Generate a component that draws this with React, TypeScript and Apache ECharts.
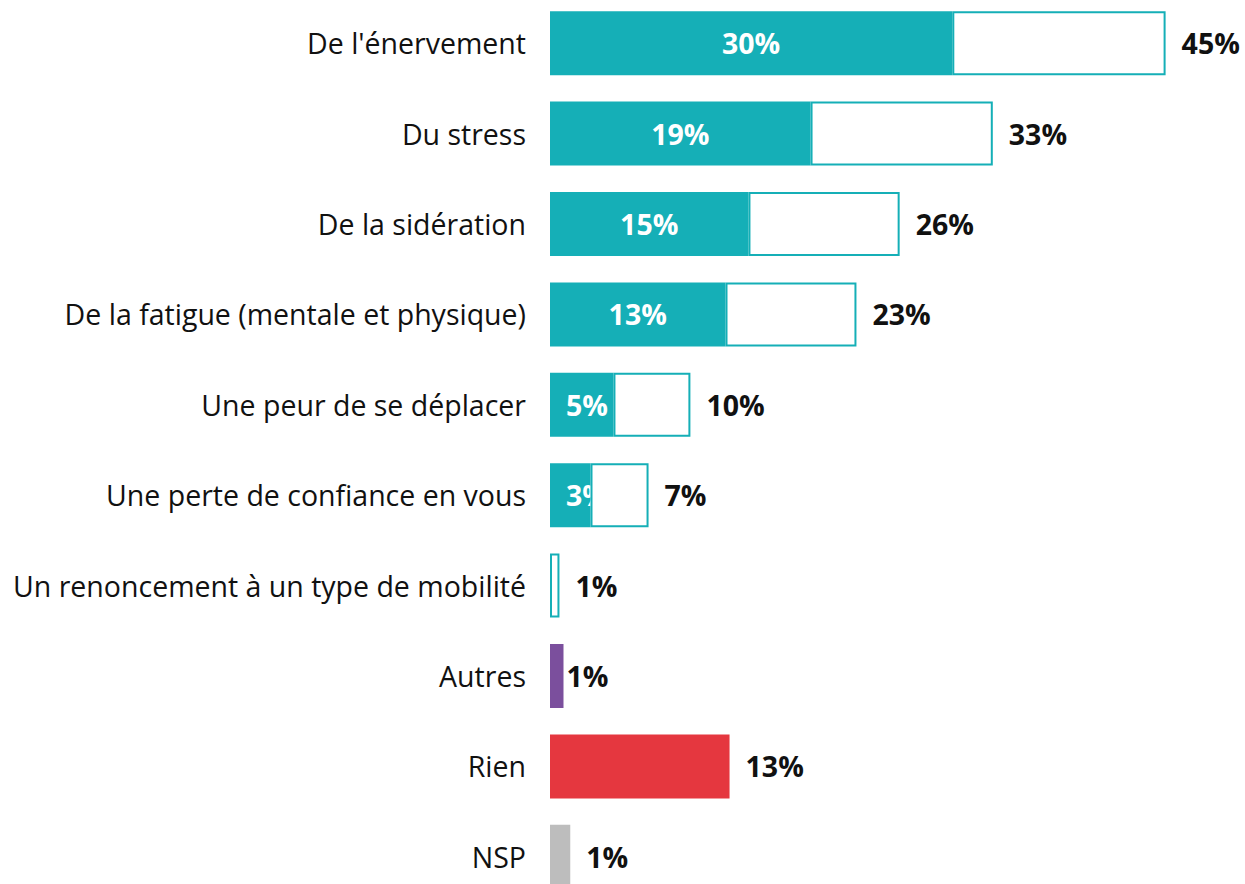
import React, { useEffect, useRef } from "react";
import * as echarts from "echarts";

const categories = [
  "De l'énervement",
  "Du stress",
  "De la sidération",
  "De la fatigue (mentale et physique)",
  "Une peur de se déplacer",
  "Une perte de confiance en vous",
  "Un renoncement à un type de mobilité",
  "Autres",
  "Rien",
  "NSP",
];
// total bar length (%)
const totalValues = [45.6, 32.8, 25.9, 22.7, 10.4, 7.3, 0.7, 1.0, 13.3, 1.5];
const totalLabels = ["45%", "33%", "26%", "23%", "10%", "7%", "1%", "1%", "13%", "1%"];
// filled (strong) part of the split bars
const strongValues = [29.8, 19.3, 14.7, 13.0, 4.7, 3.0, 0];
const strongLabels = ["30%", "19%", "15%", "13%", "5%", "3%", ""];

const TEAL = "#15AFB7";
const singleColors: Record<string, string> = {
  Autres: "#7B4F9D",
  Rien: "#E5373F",
  NSP: "#BDBDBD",
};

const FONT = "'Open Sans', sans-serif";
const VAL_SIZE = 28.5;

export default function App() {
  const ref = useRef<HTMLDivElement>(null);
  useEffect(() => {
    if (!ref.current) return;
    const chart = echarts.init(ref.current, null, { renderer: "svg" });
    const nSplit = strongValues.length;

    const strongData = categories.map((c, i) => {
      if (i < nSplit) {
        const small = strongValues[i] < 6;
        return {
          value: strongValues[i],
          itemStyle: { color: TEAL },
          label: {
            show: strongValues[i] > 0,
            position: small ? "insideLeft" : "inside",
            distance: small ? 16 : 5,
            formatter: strongLabels[i],
            color: "#ffffff",
            fontWeight: "bold",
            fontSize: VAL_SIZE,
            fontFamily: FONT,
          },
        };
      }
      return {
        value: totalValues[i],
        itemStyle: { color: singleColors[c] },
        label: {
          show: true,
          position: "right",
          distance: c === "Autres" ? 3 : 16,
          formatter: totalLabels[i],
          color: "#111111",
          fontWeight: "bold",
          fontSize: VAL_SIZE,
          fontFamily: FONT,
        },
      };
    });

    const restData = categories.map((c, i) => {
      if (i < nSplit) {
        return {
          value: +(totalValues[i] - strongValues[i]).toFixed(2),
          label: {
            show: true,
            position: "right",
            distance: 16,
            formatter: totalLabels[i],
            color: "#111111",
            fontWeight: "bold",
            fontSize: VAL_SIZE,
            fontFamily: FONT,
          },
        };
      }
      return { value: null };
    });

    chart.setOption({
      animation: false,
      grid: { left: 550, right: 20, top: 18, height: 904, containLabel: false },
      xAxis: {
        type: "value",
        min: 0,
        max: 50,
        show: false,
      },
      yAxis: {
        type: "category",
        data: categories,
        inverse: true,
        axisLine: { show: false },
        axisTick: { show: false },
        axisLabel: {
          margin: 24,
          color: "#111111",
          fontSize: 28.5,
          fontFamily: FONT,
        },
      },
      series: [
        {
          type: "bar",
          stack: "total",
          barWidth: 64,
          z: 2,
          data: strongData,
        },
        {
          type: "bar",
          stack: "total",
          barWidth: 64,
          z: 3,
          itemStyle: { color: "#ffffff", borderColor: TEAL, borderWidth: 2 },
          data: restData,
        },
      ],
    });
    return () => chart.dispose();
  }, []);
  return (
    <div style={{ position: "absolute", left: 0, top: 0, width: 1245, height: 884, overflow: "hidden" }}>
      <div
        ref={ref}
        style={{ position: "absolute", left: 0, top: -20, width: 1245, height: 940 }}
      />
    </div>
  );
}
